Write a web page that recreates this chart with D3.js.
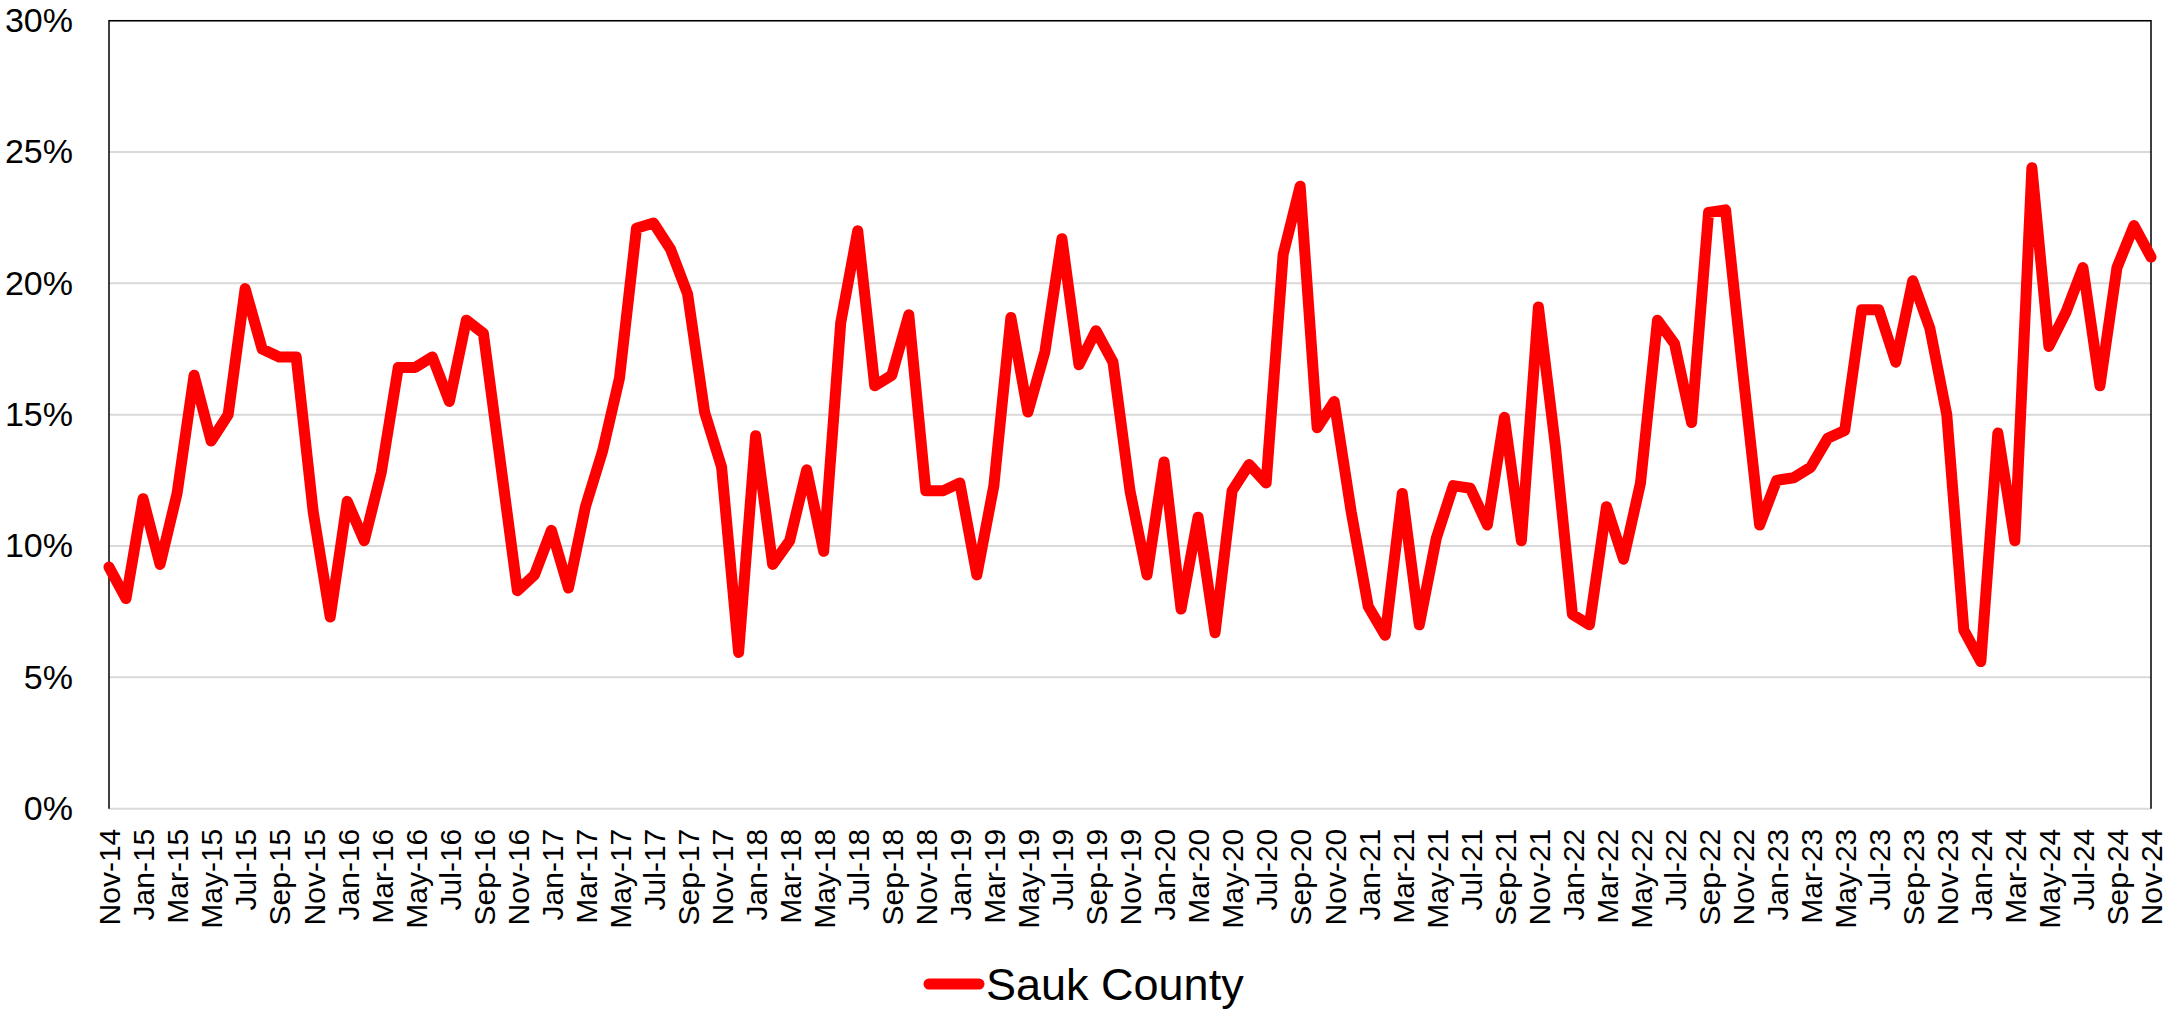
<!DOCTYPE html>
<html>
<head>
<meta charset="utf-8">
<script src="https://cdn.jsdelivr.net/npm/d3@7"></script>
<style>
  body { margin: 0; background: #fff; overflow: hidden; }
  svg { display: block; }
  text { font-family: "Liberation Sans", Arial, sans-serif; fill: #000; }
</style>
</head>
<body>
<div id="chart"></div>
<script>
const WIDTH = 2164, HEIGHT = 1009;

// monthly rate, Nov-14 .. Nov-24 (percent)
const rates = [
  9.2, 8.0, 11.8, 9.3, 12.0, 16.5, 14.0, 15.0, 19.8, 17.5, 17.2, 17.2,
  11.3, 7.3, 11.7, 10.2, 12.8, 16.8, 16.8, 17.2, 15.5, 18.6, 18.1, 13.2,
  8.3, 8.9, 10.6, 8.4, 11.5, 13.6, 16.4, 22.1, 22.3, 21.3, 19.6, 15.1,
  13.0, 5.95, 14.2, 9.3, 10.2, 12.9, 9.8, 18.5, 22.0, 16.1, 16.5, 18.8,
  12.1, 12.1, 12.4, 8.9, 12.3, 18.7, 15.1, 17.4, 21.7, 16.9, 18.2, 17.0,
  12.1, 8.9, 13.2, 7.6, 11.1, 6.7, 12.1, 13.1, 12.4, 21.1, 23.7, 14.5,
  15.5, 11.3, 7.7, 6.6, 12.0, 7.0, 10.3, 12.3, 12.2, 10.8, 14.9, 10.2,
  19.1, 13.8, 7.4, 7.0, 11.5, 9.5, 12.4, 18.6, 17.7, 14.7, 22.7, 22.8,
  16.7, 10.8, 12.5, 12.6, 13.0, 14.1, 14.4, 19.0, 19.0, 17.0, 20.1, 18.3,
  15.0, 6.8, 5.6, 14.3, 10.2, 24.4, 17.6, 18.9, 20.6, 16.1, 20.6, 22.2,
  21.0
];

const yTicks = [0, 5, 10, 15, 20, 25, 30];

const tickLabels = [
  "Nov-14", "Jan-15", "Mar-15", "May-15", "Jul-15", "Sep-15", "Nov-15",
  "Jan-16", "Mar-16", "May-16", "Jul-16", "Sep-16", "Nov-16",
  "Jan-17", "Mar-17", "May-17", "Jul-17", "Sep-17", "Nov-17",
  "Jan-18", "Mar-18", "May-18", "Jul-18", "Sep-18", "Nov-18",
  "Jan-19", "Mar-19", "May-19", "Jul-19", "Sep-19", "Nov-19",
  "Jan-20", "Mar-20", "May-20", "Jul-20", "Sep-20", "Nov-20",
  "Jan-21", "Mar-21", "May-21", "Jul-21", "Sep-21", "Nov-21",
  "Jan-22", "Mar-22", "May-22", "Jul-22", "Sep-22", "Nov-22",
  "Jan-23", "Mar-23", "May-23", "Jul-23", "Sep-23", "Nov-23",
  "Jan-24", "Mar-24", "May-24", "Jul-24", "Sep-24", "Nov-24"
];

const seriesName = "Sauk County";

// month categories built from the calendar
const fmt = d3.timeFormat("%b-%y");
const months = d3.timeMonth.range(new Date(2014, 10, 1), new Date(2024, 11, 1)).map(fmt);
const data = months.map((m, i) => ({month: m, value: rates[i]}));

var LEFT = 109, RIGHT = 2151, TOP = 20.7, BOTTOM = 808.7;

const svg = d3.select("#chart").append("svg").attr("width", WIDTH).attr("height", HEIGHT);

const x_scale = d3.scalePoint().domain(months).range([LEFT, RIGHT]);
const y_scale = d3.scaleLinear().domain([0, 30]).range([BOTTOM, TOP]);

// gridlines
svg.append("g").selectAll("line").data(yTicks).enter().append("line")
  .attr("x1", LEFT).attr("x2", RIGHT)
  .attr("y1", d => y_scale(d)).attr("y2", d => y_scale(d))
  .attr("stroke", "#d9d9d9").attr("stroke-width", 2);

// plot border (top, left, right)
svg.append("path")
  .attr("d", "M" + LEFT + "," + BOTTOM + "V" + TOP + "H" + RIGHT + "V" + BOTTOM)
  .attr("fill", "none").attr("stroke", "#000").attr("stroke-width", 1.5);

// y axis labels
const gen_y = d3.axisLeft(y_scale).tickValues(yTicks).tickFormat(d => d + "%").tickSize(0).tickPadding(36);
const yAxis = svg.append("g").attr("transform", "translate(" + LEFT + ",0)").call(gen_y);
yAxis.select(".domain").remove();
yAxis.selectAll("text").style("font-size", "34px").style("font-family", "'Liberation Sans', Arial, sans-serif");

// x axis labels, rotated
const gen_x = d3.axisBottom(x_scale).tickValues(tickLabels).tickSize(0);
const xAxis = svg.append("g").attr("transform", "translate(0," + BOTTOM + ")").call(gen_x);
xAxis.select(".domain").remove();
xAxis.selectAll("text")
  .attr("transform", "rotate(-90)")
  .attr("x", -20).attr("y", 0).attr("dy", "0.36em")
  .style("text-anchor", "end")
  .style("font-size", "30px").style("font-family", "'Liberation Sans', Arial, sans-serif");

// series line
const line = d3.line().x(d => x_scale(d.month)).y(d => y_scale(d.value));
svg.append("path").datum(data)
  .attr("d", line)
  .attr("fill", "none").attr("stroke", "#ff0000").attr("stroke-width", 11)
  .attr("stroke-linejoin", "round").attr("stroke-linecap", "round");

// legend
const legend = svg.append("g").attr("transform", "translate(924,984)");
legend.append("line").attr("x1", 5).attr("x2", 55).attr("y1", 0).attr("y2", 0)
  .attr("stroke", "#ff0000").attr("stroke-width", 11).attr("stroke-linecap", "round");
legend.append("text").attr("x", 62).attr("y", 0).attr("dy", "0.35em")
  .style("font-size", "45px").text(seriesName);
</script>
</body>
</html>
